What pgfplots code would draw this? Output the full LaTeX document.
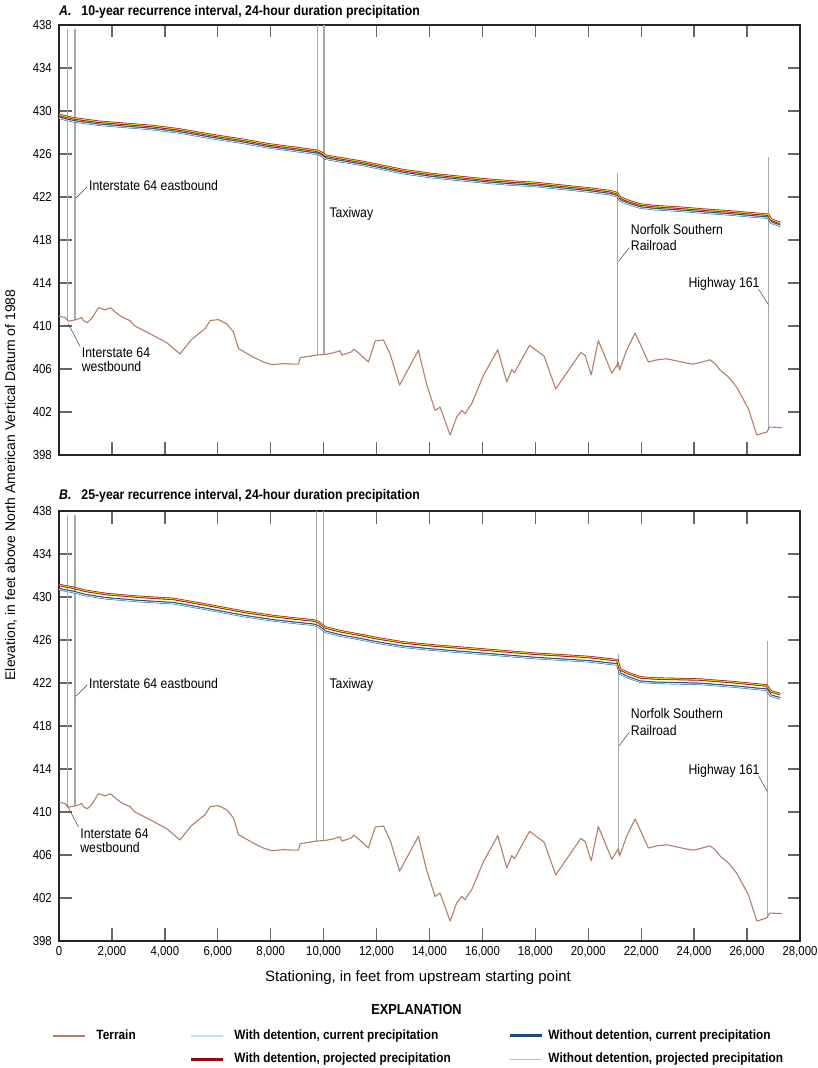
\documentclass[border=0pt]{standalone}
\usepackage{fontspec}
\setmainfont{Liberation Sans}[FakeStretch=0.88]
\newfontfamily\widefont{Liberation Sans}
\usepackage{pgfplots}
\pgfplotsset{compat=1.18}
\usepackage{pgfplotstable}

\definecolor{terrainc}{RGB}{181,126,104}
\definecolor{structc}{RGB}{168,168,168}
\definecolor{wdcc}{RGB}{190,226,246}
\definecolor{ndcc}{RGB}{28,76,122}
\definecolor{wdpc}{RGB}{150,10,10}
\definecolor{ndpc}{RGB}{240,200,20}

% terrain profile (same in both panels)
\pgfplotstableread{
x y
0 410.9
230 410.8
350 410.45
480 410.5
670 410.6
860 410.8
920 410.5
1070 410.3
1235 410.7
1490 411.7
1740 411.5
1950 411.7
2120 411.3
2370 410.85
2680 410.5
2870 410.0
3310 409.45
4070 408.45
4570 407.4
5010 408.75
5520 409.75
5710 410.5
6020 410.6
6340 410.2
6590 409.45
6780 407.9
7350 407.1
7720 406.65
8040 406.4
8480 406.5
8860 406.45
9050 406.45
9110 407.05
9740 407.3
10060 407.35
10370 407.5
10620 407.7
10690 407.3
11060 407.6
11130 407.85
11320 407.5
11690 406.65
11950 408.6
12260 408.7
12510 407.4
12870 404.5
13580 407.75
13890 404.6
14210 402.15
14400 402.45
14780 399.85
15030 401.55
15220 402.15
15340 401.85
15600 402.8
16040 405.4
16580 407.8
16920 404.8
17110 405.95
17210 405.65
17780 408.2
18330 407.2
18770 404.15
19720 407.55
19880 407.25
20110 405.45
20380 408.65
20890 405.6
21140 406.6
21180 405.9
21450 407.75
21770 409.35
22270 406.65
22590 406.85
22970 406.95
23340 406.75
23720 406.55
23970 406.45
24230 406.6
24600 406.85
24790 406.5
24980 405.9
25300 405.25
25610 404.3
26050 402.3
26370 399.85
26750 400.15
26850 400.6
27310 400.55
}\terrain

% water-surface profiles, panel A (10-year)
\pgfplotstableread{
x wdc ndc wdp ndp
0 429.35 429.38 429.65 429.66
300 429.15 429.18 429.45 429.46
600 429.00 429.03 429.30 429.31
1500 428.70 428.73 429.00 429.01
2500 428.50 428.53 428.80 428.81
3500 428.30 428.33 428.60 428.61
4500 428.00 428.03 428.30 428.31
5800 427.45 427.48 427.75 427.76
7000 427.00 427.03 427.30 427.31
7900 426.60 426.63 426.90 426.91
9000 426.25 426.28 426.55 426.56
9740 426.00 426.03 426.30 426.31
9900 425.85 425.88 426.15 426.16
10060 425.55 425.58 425.85 425.86
10400 425.40 425.43 425.70 425.71
11500 424.95 424.98 425.25 425.26
12000 424.70 424.73 425.00 425.01
13000 424.20 424.23 424.50 424.51
14000 423.85 423.88 424.15 424.16
15000 423.60 423.63 423.90 423.91
16000 423.35 423.38 423.65 423.66
17000 423.15 423.18 423.45 423.46
18000 423.00 423.03 423.30 423.31
19000 422.75 422.78 423.05 423.06
20000 422.50 422.53 422.80 422.81
20800 422.25 422.28 422.55 422.56
21100 422.05 422.08 422.35 422.36
21200 421.65 421.68 421.95 421.96
21500 421.35 421.38 421.65 421.66
21960 421.00 421.03 421.30 421.31
22500 420.85 420.88 421.15 421.16
23470 420.70 420.73 421.00 421.01
24500 420.50 420.53 420.80 420.81
25360 420.35 420.38 420.65 420.66
26300 420.15 420.18 420.45 420.46
26800 420.05 420.08 420.35 420.36
26900 419.60 419.63 419.90 419.91
27250 419.30 419.33 419.60 419.61
}\wseA

% water-surface profiles, panel B (25-year)
\pgfplotstableread{
x wdc ndc wdp ndp
0 430.70 430.73 431.12 431.13
300 430.55 430.58 430.97 430.98
540 430.45 430.48 430.87 430.88
1000 430.15 430.18 430.57 430.58
1800 429.85 429.88 430.27 430.28
3000 429.60 429.63 430.02 430.03
4330 429.40 429.43 429.82 429.83
5580 428.85 428.88 429.27 429.28
7000 428.20 428.23 428.62 428.63
8100 427.80 427.83 428.22 428.23
9000 427.55 427.58 427.97 427.98
9610 427.40 427.43 427.82 427.83
9800 427.25 427.28 427.67 427.68
10060 426.75 426.78 427.17 427.18
10620 426.40 426.43 426.82 426.83
11500 426.00 426.03 426.42 426.43
12000 425.75 425.78 426.17 426.18
13000 425.35 425.38 425.77 425.78
14000 425.10 425.13 425.52 425.53
15000 424.90 424.93 425.32 425.33
16000 424.70 424.73 425.12 425.13
17000 424.50 424.53 424.92 424.93
18000 424.30 424.33 424.72 424.73
19000 424.15 424.18 424.57 424.58
20000 424.00 424.03 424.42 424.43
21100 423.70 423.73 424.12 424.13
21200 422.85 422.88 423.27 423.28
21500 422.50 422.53 422.92 422.93
21960 422.10 422.13 422.52 422.53
22500 422.00 422.03 422.42 422.43
24220 421.90 421.93 422.32 422.33
25500 421.65 421.68 422.07 422.08
26740 421.35 421.38 421.77 421.78
26900 420.80 420.83 421.22 421.23
27250 420.55 420.58 420.97 420.98
}\wseB

\pgfplotsset{
  profile/.style={
    width=741bp, height=430bp, scale only axis,
    xmin=0, xmax=28000, ymin=398, ymax=438,
    xtick={0,2000,...,28000}, ytick={398,402,...,438},
    tick align=inside, major tick length=12.5bp,
    tick style={draw=black!60, line width=1.3bp},
    axis line style={draw=black!85, line width=1.3bp},
    xtick pos=both, ytick pos=both,
    xticklabel pos=lower, yticklabel pos=left,
    tick label style={font=\fontsize{13}{13}\selectfont, inner sep=0bp},
    yticklabel style={xshift=-7bp},
    xticklabel style={yshift=-5bp},
    scaled x ticks=false,
    /pgf/number format/1000 sep={,},
    /pgf/number format/assume math mode=true,
  },
  struct/.style={draw=structc, line width=1.2bp, forget plot},
  leader/.style={draw=black!75, line width=0.5bp, forget plot},
  terr/.style={draw=terrainc, line width=1.1bp, line join=round, forget plot},
}
\tikzset{
  note/.style={anchor=base west, inner sep=0bp, font=\fontsize{14}{14}\selectfont},
  ttl/.style={anchor=base west, inner sep=0bp, font=\bfseries\fontsize{14}{14}\selectfont},
}

\begin{document}
\begin{tikzpicture}
  % ---------------- panel A ----------------
  \begin{axis}[profile, name=A, at={(0bp,486bp)}, anchor=south west,
      xticklabels={}]
    \addplot[struct] coordinates {(330,410.45) (330,437.6)};
    \addplot[struct] coordinates {(605,410.6) (605,437.6)};
    \addplot[struct] coordinates {(9760,407.3) (9760,438)};
    \addplot[struct] coordinates {(10015,407.35) (10015,438)};
    \addplot[struct] coordinates {(21115,406.1) (21115,424.2)};
    \addplot[struct] coordinates {(26815,400.3) (26815,425.7)};

    \addplot[terr] table[x=x,y=y] {\terrain};

    \addplot[draw=ndcc, line width=2.4bp, line join=round, forget plot] table[x=x,y=ndc] {\wseA};
    \addplot[draw=wdcc, line width=1.0bp, line join=round, forget plot] table[x=x,y=wdc] {\wseA};
    \addplot[draw=wdpc, line width=2.4bp, line join=round, forget plot] table[x=x,y=wdp] {\wseA};
    \addplot[draw=ndpc, line width=1.0bp, line join=round, forget plot] table[x=x,y=ndp] {\wseA};

    \addplot[leader] coordinates {(1070,422.96) (643,421.9)};
    \addplot[leader] coordinates {(21552,417.3) (21140,416.0)};
    \addplot[leader] coordinates {(26427,413.45) (26806,412.0)};
    \addplot[leader] coordinates {(794,408.1) (352,410.2)};

    \node[note] at (axis cs:1130,422.65) {Interstate 64 eastbound};
    \node[note] at (axis cs:10215,420.05) {Taxiway};
    \node[note] at (axis cs:21603,418.47) {Norfolk Southern};
    \node[note] at (axis cs:21603,417.0) {Railroad};
    \node[note] at (axis cs:23783,413.55) {Highway 161};
    \node[note] at (axis cs:857,407.1) {Interstate 64};
    \node[note] at (axis cs:857,405.8) {westbound};
  \end{axis}

  % ---------------- panel B ----------------
  \begin{axis}[profile, name=B, at={(0bp,0bp)}, anchor=south west,
      legend columns=3,
      legend style={at={(axis description cs:0,0)}, anchor=north west,
        xshift=-7bp, yshift=-88.2bp,
        draw=none, fill=none, inner sep=0bp, column sep=0bp, row sep=10.3bp,
        font=\bfseries\fontsize{13.5}{13.5}\selectfont,
        nodes={inner sep=0bp, text height=10bp, text depth=3bp},
        cells={anchor=west}},
      legend image code/.code={\draw[#1] (0bp,0bp) -- (32bp,0bp);},
    ]
    \addplot[struct] coordinates {(330,410.45) (330,437.6)};
    \addplot[struct] coordinates {(605,410.6) (605,437.6)};
    \addplot[struct] coordinates {(9730,407.3) (9730,438)};
    \addplot[struct] coordinates {(10000,407.35) (10000,438)};
    \addplot[struct] coordinates {(21135,406.1) (21135,424.7)};
    \addplot[struct] coordinates {(26760,400.2) (26760,425.95)};

    \addplot[terr] table[x=x,y=y] {\terrain};

    \addplot[draw=ndcc, line width=2.4bp, line join=round, forget plot] table[x=x,y=ndc] {\wseB};
    \addplot[draw=wdcc, line width=1.0bp, line join=round, forget plot] table[x=x,y=wdc] {\wseB};
    \addplot[draw=wdpc, line width=2.4bp, line join=round, forget plot] table[x=x,y=wdp] {\wseB};
    \addplot[draw=ndpc, line width=1.0bp, line join=round, forget plot] table[x=x,y=ndp] {\wseB};

    \addplot[leader] coordinates {(1070,421.83) (643,420.77)};
    \addplot[leader] coordinates {(21552,417.43) (21160,416.13)};
    \addplot[leader] coordinates {(26427,413.4) (26750,411.95)};
    \addplot[leader] coordinates {(740,408.6) (287,410.7)};

    \node[note] at (axis cs:1130,421.52) {Interstate 64 eastbound};
    \node[note] at (axis cs:10215,421.52) {Taxiway};
    \node[note] at (axis cs:21603,418.72) {Norfolk Southern};
    \node[note] at (axis cs:21603,417.13) {Railroad};
    \node[note] at (axis cs:23783,413.49) {Highway 161};
    \node[note] at (axis cs:800,407.5) {Interstate 64};
    \node[note] at (axis cs:800,406.2) {westbound};

    \addlegendimage{terrainc, line width=1.3bp}
    \addlegendentry{\makebox[104bp][l]{\hspace{11bp}Terrain}}
    \addlegendimage{wdcc, line width=2.6bp}
    \addlegendentry{\makebox[284bp][l]{\hspace{10bp}With detention, current precipitation}}
    \addlegendimage{ndcc, line width=3bp}
    \addlegendentry{\makebox[250bp][l]{\hspace{5bp}Without detention, current precipitation}}
    \addlegendimage{empty legend}
    \addlegendentry{}
    \addlegendimage{wdpc, line width=3bp}
    \addlegendentry{\makebox[284bp][l]{\hspace{10bp}With detention, projected precipitation}}
    \addlegendimage{ndpc, line width=1.2bp}
    \addlegendentry{\makebox[250bp][l]{\hspace{5bp}Without detention, projected precipitation}}
  \end{axis}

  % titles and shared labels
  \node[ttl] at ([yshift=9bp]A.north west) {\textit{A.}\hspace{10bp}10-year recurrence interval, 24-hour duration precipitation};
  \node[ttl] at ([yshift=11bp]B.north west) {\textit{B.}\hspace{10bp}25-year recurrence interval, 24-hour duration precipitation};
  \node[rotate=90, inner sep=0bp, font=\widefont\fontsize{14}{14}\selectfont]
    at ([xshift=-48bp,yshift=456bp]B.south west) {Elevation, in feet above North American Vertical Datum of 1988};
  \node[anchor=base, inner sep=0bp, font=\widefont\fontsize{15}{15}\selectfont]
    at ([xshift=359bp,yshift=-40bp]B.south west) {Stationing, in feet from upstream starting point};
  \node[anchor=base, inner sep=0bp, font=\bfseries\fontsize{14.5}{14.5}\selectfont]
    at ([xshift=357.5bp,yshift=-73bp]B.south west) {EXPLANATION};

  \pgfresetboundingbox
  \path ([xshift=-59bp,yshift=-127bp]B.south west) rectangle ++(818bp,1068bp);
\end{tikzpicture}
\end{document}
